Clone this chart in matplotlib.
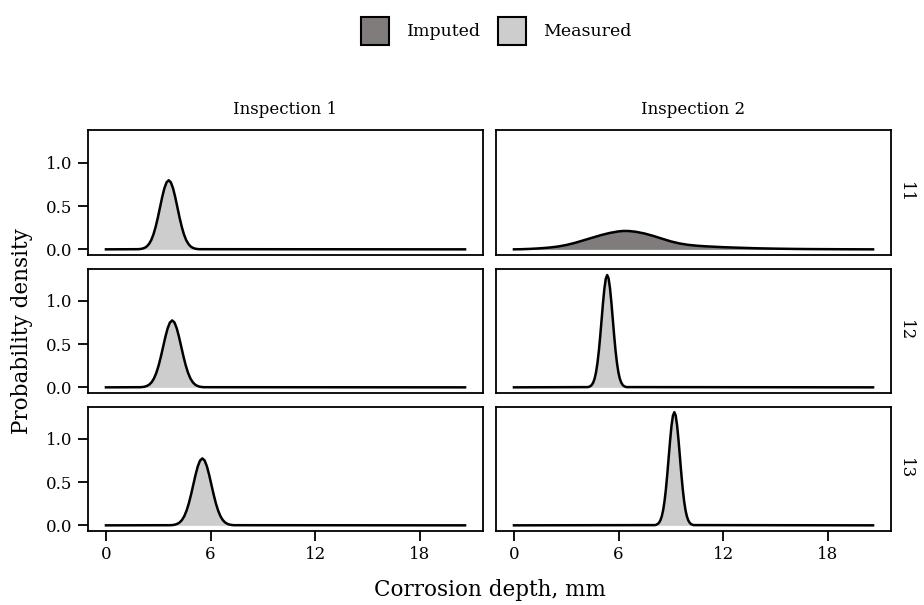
import matplotlib
matplotlib.use('Agg')
import matplotlib.pyplot as plt
from matplotlib.patches import Patch

plt.rcParams['font.family'] = ['DejaVu Serif']

# Facets
inspections = ['Inspection 1', 'Inspection 2']
segments = ['11', '12', '13']

# Fill colours per source
source_colors = {'Imputed': '#807c7c', 'Measured': '#cdcdcd'}

# Density curves: (x in mm, density), one per panel
# row 11
x_11_1 = [0.0, 1.85, 1.975, 2.1, 2.225, 2.35, 2.475, 2.6, 2.725, 2.85, 2.975, 3.1, 3.225, 3.35, 3.475,
          3.6, 3.725, 3.85, 3.975, 4.1, 4.225, 4.35, 4.475, 4.6, 4.725, 4.85, 4.975, 5.1, 5.225, 5.35, 20.6]
d_11_1 = [0.0, 0.0018, 0.0041, 0.0089, 0.018, 0.035, 0.064, 0.108, 0.173, 0.260, 0.366, 0.485, 0.604, 0.706, 0.775,
          0.80, 0.775, 0.706, 0.604, 0.485, 0.366, 0.260, 0.173, 0.108, 0.064, 0.035, 0.018, 0.0089, 0.0041, 0.0018, 0.0]
x_11_2 = [0.0, 0.5, 1.0, 1.5, 2.0, 2.5, 3.0, 3.5, 4.0, 4.5, 5.0, 5.5, 6.0, 6.3, 6.6, 7.0, 7.5, 8.0, 8.5,
          9.0, 9.5, 10.0, 10.5, 11.0, 12.0, 13.0, 14.0, 15.0, 16.0, 17.0, 18.0, 19.0, 20.6]
d_11_2 = [0.0, 0.002, 0.006, 0.012, 0.02, 0.032, 0.05, 0.075, 0.105, 0.135, 0.165, 0.19, 0.208, 0.213, 0.212,
          0.203, 0.183, 0.155, 0.123, 0.092, 0.068, 0.052, 0.042, 0.035, 0.025, 0.018, 0.012, 0.008, 0.005,
          0.003, 0.002, 0.001, 0.0]
# row 12
x_12_1 = [0.0, 1.98, 2.11, 2.24, 2.37, 2.5, 2.63, 2.76, 2.89, 3.02, 3.15, 3.28, 3.41, 3.54, 3.67,
          3.8, 3.93, 4.06, 4.19, 4.32, 4.45, 4.58, 4.71, 4.84, 4.97, 5.1, 5.23, 5.36, 5.49, 5.62, 20.6]
d_12_1 = [0.0, 0.0017, 0.0040, 0.0086, 0.018, 0.034, 0.062, 0.105, 0.168, 0.252, 0.355, 0.470, 0.585, 0.684, 0.751,
          0.775, 0.751, 0.684, 0.585, 0.470, 0.355, 0.252, 0.168, 0.105, 0.062, 0.034, 0.018, 0.0086, 0.0040, 0.0017, 0.0]
x_12_2 = [0.0, 4.23, 4.31, 4.39, 4.47, 4.55, 4.63, 4.71, 4.79, 4.87, 4.95, 5.03, 5.11, 5.19, 5.27,
          5.35, 5.43, 5.51, 5.59, 5.67, 5.75, 5.83, 5.91, 5.99, 6.07, 6.15, 6.23, 6.31, 6.39, 6.47, 20.6]
d_12_2 = [0.0, 0.0029, 0.0066, 0.0144, 0.030, 0.057, 0.103, 0.176, 0.281, 0.422, 0.595, 0.788, 0.981, 1.147, 1.260,
          1.30, 1.260, 1.147, 0.981, 0.788, 0.595, 0.422, 0.281, 0.176, 0.103, 0.057, 0.030, 0.0144, 0.0066, 0.0029, 0.0]
# row 13
x_13_1 = [0.0, 3.71, 3.84, 3.97, 4.10, 4.23, 4.36, 4.49, 4.62, 4.75, 4.88, 5.01, 5.14, 5.27, 5.40,
          5.53, 5.66, 5.79, 5.92, 6.05, 6.18, 6.31, 6.44, 6.57, 6.70, 6.83, 6.96, 7.09, 7.22, 7.35, 20.6]
d_13_1 = [0.0, 0.0017, 0.0040, 0.0086, 0.018, 0.034, 0.062, 0.105, 0.168, 0.252, 0.355, 0.470, 0.585, 0.684, 0.751,
          0.775, 0.751, 0.684, 0.585, 0.470, 0.355, 0.252, 0.168, 0.105, 0.062, 0.034, 0.018, 0.0086, 0.0040, 0.0017, 0.0]
x_13_2 = [0.0, 8.08, 8.16, 8.24, 8.32, 8.40, 8.48, 8.56, 8.64, 8.72, 8.80, 8.88, 8.96, 9.04, 9.12,
          9.20, 9.28, 9.36, 9.44, 9.52, 9.60, 9.68, 9.76, 9.84, 9.92, 10.00, 10.08, 10.16, 10.24, 10.32, 20.6]
d_13_2 = [0.0, 0.0029, 0.0067, 0.0145, 0.030, 0.058, 0.104, 0.177, 0.283, 0.425, 0.600, 0.795, 0.989, 1.156, 1.270,
          1.31, 1.270, 1.156, 0.989, 0.795, 0.600, 0.425, 0.283, 0.177, 0.104, 0.058, 0.030, 0.0145, 0.0067, 0.0029, 0.0]

curves = [
    [(x_11_1, d_11_1, 'Measured'), (x_11_2, d_11_2, 'Imputed')],
    [(x_12_1, d_12_1, 'Measured'), (x_12_2, d_12_2, 'Measured')],
    [(x_13_1, d_13_1, 'Measured'), (x_13_2, d_13_2, 'Measured')],
]

x_ticks = [0, 6, 12, 18]
y_ticks = [0.0, 0.5, 1.0]
y_tick_labels = ['0.0', '0.5', '1.0']

W, H = 924, 605
fig = plt.figure(figsize=(W / 100, H / 100), dpi=100, facecolor='white')

col_left = [88, 496]
col_w = 395
row_top = [130.5, 268.5, 406.5]
row_h = 124.5

x_lim = (-1.03, 21.63)
y_lim = (-0.0655, 1.376)

for r in range(3):
    for c in range(2):
        ax = fig.add_axes([col_left[c] / W, 1 - (row_top[r] + row_h) / H, col_w / W, row_h / H])
        x, d, src = curves[r][c]
        ax.fill_between(x, d, 0, color=source_colors[src], lw=0)
        ax.plot(x, d, color='black', lw=1.8, solid_joinstyle='round')
        ax.set_xlim(x_lim)
        ax.set_ylim(y_lim)
        for s in ax.spines.values():
            s.set_linewidth(1.3)
        ax.tick_params(length=7, width=1.3, labelsize=12, pad=4, color='black')
        ax.set_xticks(x_ticks)
        ax.set_yticks(y_ticks)
        ax.set_yticklabels(y_tick_labels)
        if c != 0:
            ax.tick_params(axis='y', left=False, labelleft=False)
        if r != 2:
            ax.tick_params(axis='x', bottom=False, labelbottom=False)
        if r == 0:
            ax.set_title(inspections[c], fontsize=12, pad=12)
        if c == 1:
            ax.text(1 + 14 / col_w, 0.5, segments[r], transform=ax.transAxes,
                    rotation=270, ha='center', va='center', fontsize=12)

fig.text(489.5 / W, 1 - 590 / H, 'Corrosion depth, mm', ha='center', va='center', fontsize=15.5)
fig.text(22 / W, 1 - 331 / H, 'Probability density', ha='center', va='center',
         rotation=90, fontsize=15.5)

handles = [Patch(facecolor=source_colors[k], edgecolor='black', lw=1.5) for k in ['Imputed', 'Measured']]
fig.legend(handles, ['Imputed', 'Measured'], loc='center', bbox_to_anchor=(496.5 / W, 1 - 31 / H),
           ncol=2, frameon=False, fontsize=12.5, handlelength=1.6, handleheight=2.1,
           handletextpad=1.0, columnspacing=1.0)

fig.savefig('out.png', dpi=100, facecolor='white')
